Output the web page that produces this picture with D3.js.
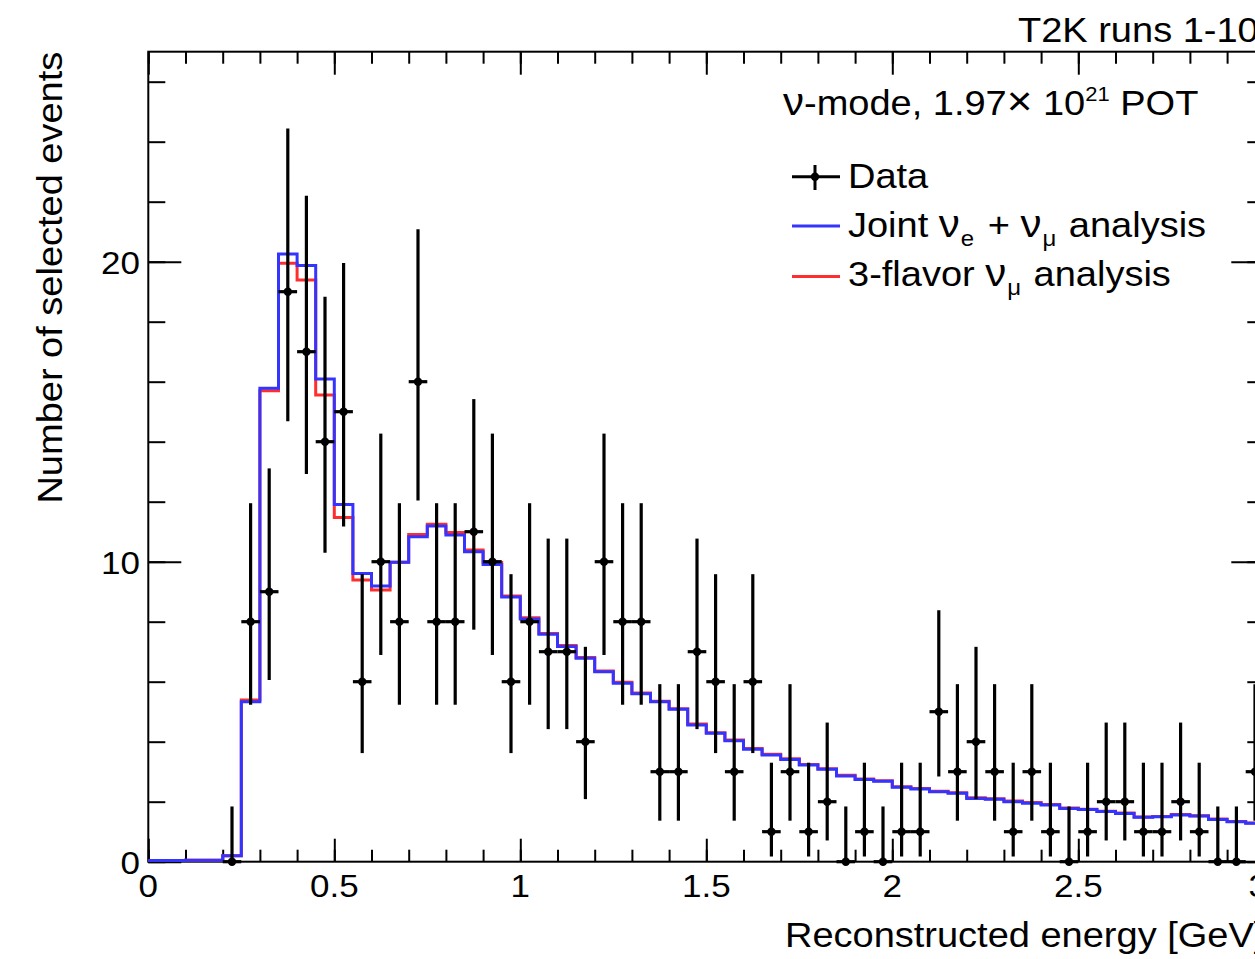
<!DOCTYPE html>
<html><head><meta charset="utf-8">
<script src="https://cdn.jsdelivr.net/npm/d3@7"></script>
<style>html,body{margin:0;padding:0;overflow:hidden;background:#fff;} svg{display:block;}</style>
</head><body>
<svg id="c" width="1300" height="959"></svg>
<script>
// ---- data ----
const binWidth = 0.05;
const mcEdges = d3.range(61).map(i => +(i * binWidth).toFixed(2));
const jointPred = [0.04,0.04,0.05,0.05,0.2,5.33,15.78,20.26,19.87,16.09,11.91,9.61,9.19,9.98,10.83,11.19,10.89,10.33,9.91,8.82,8.09,7.58,7.17,6.78,6.33,5.95,5.60,5.33,5.08,4.56,4.28,4.03,3.75,3.56,3.41,3.22,3.08,2.86,2.74,2.68,2.48,2.42,2.33,2.28,2.11,2.08,2.00,1.95,1.89,1.77,1.74,1.67,1.61,1.48,1.50,1.56,1.52,1.41,1.33,1.28];
const threeFlavorPred = [0.04,0.04,0.05,0.05,0.2,5.39,15.70,19.95,19.39,15.56,11.47,9.39,9.06,9.98,10.91,11.25,10.97,10.39,9.97,8.86,8.13,7.61,7.21,6.81,6.36,5.98,5.62,5.35,5.10,4.59,4.30,4.06,3.77,3.58,3.43,3.24,3.10,2.88,2.76,2.70,2.50,2.44,2.35,2.30,2.13,2.10,2.02,1.97,1.91,1.79,1.75,1.68,1.62,1.49,1.51,1.57,1.53,1.42,1.34,1.29];
const dataCenters = d3.range(56).map(i => +(0.225 + i * binWidth).toFixed(3));
const dataCounts = [0,8,9,19,17,14,15,6,10,8,16,8,8,11,10,6,8,7,7,4,10,8,8,3,3,7,6,3,6,1,3,1,2,0,1,0,1,1,5,3,4,3,1,3,1,0,1,2,2,1,1,2,1,0,0,3];
// Garwood 68.27% Poisson interval bounds, indexed by count
const poissonLow  = [0,0.173,0.708,1.367,2.086,2.840,3.620,4.419,5.232,6.057,6.891,7.734,8.585,9.441,10.30,11.17,12.04,12.92,13.80,14.68];
const poissonHigh = [1.841,3.300,4.638,5.918,7.163,8.382,9.584,10.77,11.95,13.11,14.27,15.42,16.56,17.70,18.83,19.96,21.08,22.20,23.32,24.44];
const xTicksMajor = [0,0.5,1,1.5,2,2.5,3];
const xTickLabels = ["0","0.5","1","1.5","2","2.5","3"];
const xTicksMinor = d3.range(31).map(i => +(i * 0.1).toFixed(1));
const yTicksMajor = [0,10,20];
const yTickLabels = ["0","10","20"];
const yTicksMinor = d3.range(14).map(i => i * 2);

// ---- layout ----
const svg = d3.select("#c");
const FONT = "'Liberation Sans', Arial, Helvetica, sans-serif";
const SQ = 0.92;
const x = d3.scaleLinear().domain([0, 3]).range([148.3, 1264.3]);
const y = d3.scaleLinear().domain([0, 27]).range([861.7, 51.7]);
const X0 = x.range()[0], X1 = x.range()[1], Y0 = y.range()[0], Y1 = y.range()[1];

function txt(px, py, str, size, anchor, rot) {
  return svg.append("text")
    .attr("transform", `translate(${px},${py})${rot ? " rotate(-90)" : ""} scale(1,${SQ})`)
    .attr("font-family", FONT).attr("font-size", size)
    .attr("text-anchor", anchor || "start").attr("fill", "#000").text(str);
}

// ---- axes ticks ----
function ticks(gen, tr, vals, size) {
  svg.append("g").attr("transform", tr)
    .call(gen.tickValues(vals).tickSize(size).tickFormat(""))
    .call(g => g.select(".domain").remove())
    .call(g => g.selectAll("line").attr("stroke", "#000").attr("stroke-width", 2));
}
ticks(d3.axisBottom(x), `translate(0,${Y0})`, xTicksMinor, -12);
ticks(d3.axisBottom(x), `translate(0,${Y0})`, xTicksMajor, -23);
ticks(d3.axisTop(x), `translate(0,${Y1})`, xTicksMinor, -12);
ticks(d3.axisTop(x), `translate(0,${Y1})`, xTicksMajor, -23);
ticks(d3.axisLeft(y), `translate(${X0},0)`, yTicksMinor, -17);
ticks(d3.axisLeft(y), `translate(${X0},0)`, yTicksMajor, -33);
ticks(d3.axisRight(y), `translate(${X1},0)`, yTicksMinor, -17);
ticks(d3.axisRight(y), `translate(${X1},0)`, yTicksMajor, -33);

// frame
svg.append("rect").attr("x", X0).attr("y", Y1).attr("width", X1 - X0).attr("height", Y0 - Y1)
  .attr("fill", "none").attr("stroke", "#000").attr("stroke-width", 2);

// tick labels
xTicksMajor.forEach((v, i) => txt(x(v) - (i === xTicksMajor.length - 1 ? 6 : 0), 897, xTickLabels[i], 35, "middle"));
yTicksMajor.forEach((v, i) => txt(140, y(v) + 12, yTickLabels[i], 35, "end"));

// axis titles
txt(X1, 946.5, "Reconstructed energy [GeV]", 38, "end");
txt(61.7, Y1, "Number of selected events", 38, "end", true);
txt(1018, 42, "T2K runs 1-10", 38, "start");

// ---- histograms ----
const stepLine = d3.line().x(d => x(d[0])).y(d => y(d[1])).curve(d3.curveStepAfter);
function hist(vals, color) {
  const pts = vals.map((v, i) => [mcEdges[i], v]);
  pts.push([mcEdges[vals.length], vals[vals.length - 1]]);
  svg.append("path").attr("d", stepLine(pts)).attr("fill", "none")
    .attr("stroke", color).attr("stroke-width", 3).attr("stroke-linejoin", "miter");
}
const RED = "#ff2e2e", BLUE = "#3434ff";
hist(threeFlavorPred, RED);
hist(jointPred, BLUE);

// ---- data points ----
const gd = svg.append("g");
dataCounts.forEach((n, i) => {
  const c = dataCenters[i];
  gd.append("line").attr("x1", x(c)).attr("x2", x(c)).attr("y1", y(poissonLow[n])).attr("y2", y(poissonHigh[n]))
    .attr("stroke", "#000").attr("stroke-width", 3.2);
  gd.append("line").attr("x1", x(c - binWidth / 2)).attr("x2", x(c + binWidth / 2)).attr("y1", y(n)).attr("y2", y(n))
    .attr("stroke", "#000").attr("stroke-width", 3.2);
  gd.append("circle").attr("cx", x(c)).attr("cy", y(n)).attr("r", 4.2).attr("fill", "#000");
});

// ---- labels / legend ----
const t1 = txt(783, 115, "", 38, "start");
t1.append("tspan").attr("font-size", 42).text("ν");
t1.append("tspan").text("-mode, 1.97");
t1.append("tspan").attr("font-size", 44).text("×");
t1.append("tspan").text(" 10");
t1.append("tspan").attr("dy", -15).attr("font-size", 22).text("21");
t1.append("tspan").attr("dy", 15).text(" POT");

// legend markers
svg.append("line").attr("x1", 792).attr("x2", 840).attr("y1", 176.7).attr("y2", 176.7).attr("stroke", "#000").attr("stroke-width", 3);
svg.append("line").attr("x1", 815).attr("x2", 815).attr("y1", 165).attr("y2", 190).attr("stroke", "#000").attr("stroke-width", 3);
svg.append("circle").attr("cx", 815).attr("cy", 176.7).attr("r", 4.2).attr("fill", "#000");
svg.append("line").attr("x1", 792).attr("x2", 840).attr("y1", 226).attr("y2", 226).attr("stroke", BLUE).attr("stroke-width", 3);
svg.append("line").attr("x1", 792).attr("x2", 840).attr("y1", 276.5).attr("y2", 276.5).attr("stroke", RED).attr("stroke-width", 3);

txt(848, 188.3, "Data", 38, "start");
const t2 = txt(848, 237, "", 38, "start");
t2.append("tspan").text("Joint ");
t2.append("tspan").attr("font-size", 42).text("ν");
t2.append("tspan").attr("dy", 10).attr("dx", 1).attr("font-size", 24).text("e");
t2.append("tspan").attr("dy", -10).attr("dx", 3).text(" + ");
t2.append("tspan").attr("font-size", 42).text("ν");
t2.append("tspan").attr("dy", 10).attr("dx", 1).attr("font-size", 24).text("μ");
t2.append("tspan").attr("dy", -10).attr("dx", 2).text(" analysis");
const t3 = txt(848, 286, "", 38, "start");
t3.append("tspan").text("3-flavor ");
t3.append("tspan").attr("font-size", 42).text("ν");
t3.append("tspan").attr("dy", 10).attr("dx", 1).attr("font-size", 24).text("μ");
t3.append("tspan").attr("dy", -10).attr("dx", 2).text(" analysis");
</script>
</body></html>
